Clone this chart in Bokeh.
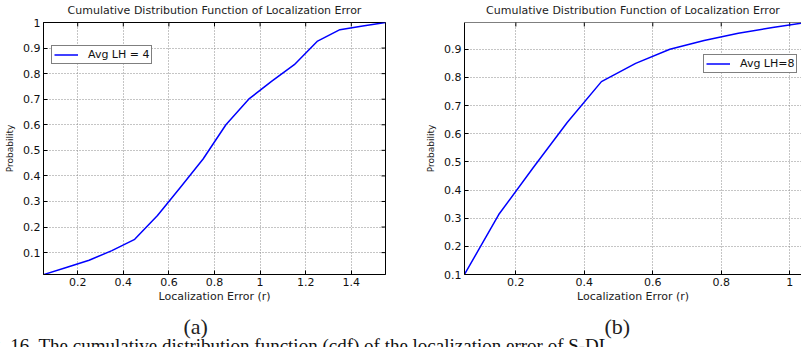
import math
from bokeh.plotting import figure
from bokeh.layouts import row, column
from bokeh.models import Range1d, FixedTicker, Legend, LegendItem, Span
from bokeh.core.properties import value
from bokeh.embed import file_html
from bokeh.resources import INLINE

# ---- data ----
err_a = [0.05, 0.15, 0.25, 0.35, 0.45, 0.55, 0.65, 0.75, 0.85, 0.95, 1.05, 1.15, 1.25, 1.35, 1.45, 1.55]
cdf_a = [0.014, 0.042, 0.07, 0.108, 0.152, 0.245, 0.355, 0.466, 0.60, 0.70, 0.77, 0.835, 0.926, 0.972, 0.986, 1.0]

err_b = [0.05, 0.15, 0.25, 0.35, 0.45, 0.55, 0.65, 0.75, 0.85, 0.95, 1.05]
cdf_b = [0.10, 0.313, 0.478, 0.64, 0.785, 0.85, 0.90, 0.931, 0.957, 0.977, 0.995]

xticks_a = [0.2, 0.4, 0.6, 0.8, 1.0, 1.2, 1.4]
yticks_a = [0.1, 0.2, 0.3, 0.4, 0.5, 0.6, 0.7, 0.8, 0.9, 1.0]
xticks_b = [0.2, 0.4, 0.6, 0.8, 1.0]
yticks_b = [0.1, 0.2, 0.3, 0.4, 0.5, 0.6, 0.7, 0.8, 0.9]

title_text = "Cumulative Distribution Function of Localization Error"
xlabel = "Localization Error (r)"
ylabel = "Probability"
captions = ["(a)", "(b)"]
caption_text = "Fig. 16. The cumulative distribution function (cdf) of the localization error of S-DL"

FONT = "DejaVu Sans"
SERIF = "Liberation Serif"


def fmt(v):
    return "1" if abs(v - 1.0) < 1e-9 else ("%g" % v)


def style_axis(ax, ticks):
    ax.ticker = FixedTicker(ticks=ticks)
    ax.major_tick_in = 4
    ax.major_tick_out = 0
    ax.minor_tick_line_color = None
    ax.axis_line_color = "black"
    ax.axis_line_width = 1
    ax.major_tick_line_color = "black"
    ax.major_label_overrides = {t: fmt(t) for t in ticks}
    ax.major_label_text_font = FONT
    ax.major_label_text_font_size = "11px"
    ax.major_label_text_color = "#111111"
    ax.axis_label_text_font = FONT
    ax.axis_label_text_font_style = "normal"
    ax.axis_label_text_color = "#222222"


def make(width, xr, yr, xt, yt, xs, ys, label, leg_loc, bl, br, full_box):
    p = figure(width=width, height=306, x_range=Range1d(*xr), y_range=Range1d(*yr),
               output_backend="svg", toolbar_location=None,
               min_border_left=bl, min_border_right=br, min_border_top=21, min_border_bottom=32,
               background_fill_color="white", border_fill_color="white")
    p.outline_line_color = "black" if full_box else None
    p.outline_line_width = 1
    if not full_box:
        p.add_layout(Span(location=yr[1], dimension="width", line_color="black", line_width=1))
    p.title.text = title_text
    p.title.align = "center"
    p.title.vertical_align = "top"
    p.title.text_font = FONT
    p.title.text_font_size = "11px"
    p.title.text_font_style = "normal"
    p.title.text_color = "#222222"
    p.title.standoff = 7

    style_axis(p.xaxis[0], xt)
    style_axis(p.yaxis[0], yt)
    p.xaxis[0].axis_label = xlabel
    p.yaxis[0].axis_label = ylabel
    p.xaxis[0].axis_label_text_font_size = "11px"
    p.yaxis[0].axis_label_text_font_size = "9px"
    p.xaxis[0].major_label_standoff = 3
    p.xaxis[0].axis_label_standoff = 1
    p.yaxis[0].major_label_standoff = 3
    p.yaxis[0].axis_label_standoff = 5

    for g, ticks in ((p.xgrid[0], xt), (p.ygrid[0], yt)):
        g.ticker = FixedTicker(ticks=ticks)
        g.grid_line_color = "#8a8a8a"
        g.grid_line_dash = "1 2"
        g.grid_line_width = 1

    # inward ticks on the top (and right) edge of the box, clipped by the frame
    p.scatter(x=xt, y=[yr[1]] * len(xt), marker="dash", angle=math.pi / 2, size=8,
              line_color="black", line_width=1)
    if full_box:
        p.scatter(x=[xr[1]] * len(yt), y=yt, marker="dash", size=8,
                  line_color="black", line_width=1)

    r = p.line(xs, ys, line_color="#0000ff", line_width=1.5)

    leg = Legend(items=[LegendItem(label=label, renderers=[r])], location=leg_loc,
                 border_line_color="black", border_line_width=1,
                 background_fill_color="white", background_fill_alpha=1,
                 padding=2, margin=0, spacing=0, glyph_width=24, glyph_height=11,
                 label_height=11, label_standoff=10, label_text_font=FONT,
                 label_text_font_size="11px", label_text_color="#111111")
    p.add_layout(leg)
    return p


p1 = make(420, (0.05, 1.55), (0.0144, 1.0), xticks_a, yticks_a, err_a, cdf_a,
          "Avg LH = 4", (8, 210), 43, 35, True)
p2 = make(381, (0.05, 1.0345), (0.1, 0.995), xticks_b, yticks_b, err_b, cdf_b,
          "Avg LH=8", (239, 201), 44, 0, False)

# strip below the plots: sub-figure captions and the (cut off) figure caption,
# laid out in page pixel coordinates
p3 = figure(width=801, height=41, x_range=Range1d(0, 801), y_range=Range1d(347, 306),
            output_backend="svg", toolbar_location=None, title=None,
            min_border_left=0, min_border_right=0, min_border_top=0, min_border_bottom=0,
            border_fill_color="white", background_fill_color="white")
p3.axis.visible = False
p3.grid.visible = False
p3.outline_line_color = None
p3.text(x=[183, 604], y=[326, 326], text=captions, text_font=value(SERIF),
        text_font_size="22px", text_baseline="middle", text_align="left",
        text_color="#222222")
p3.text(x=[-25], y=[334], text=[caption_text], text_font=value(SERIF),
        text_font_size="19px", text_baseline="top", text_align="left",
        text_color="#111111")

layout = column(row(p1, p2), p3)
open("out.html", "w").write(file_html(layout, INLINE))
